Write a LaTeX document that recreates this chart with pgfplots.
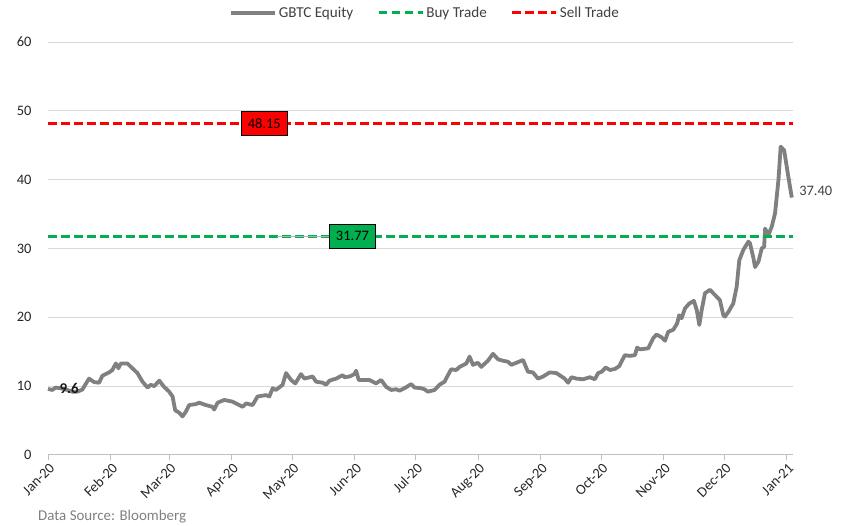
\documentclass[border=0pt]{standalone}
\usepackage{pgfplots}
\pgfplotsset{compat=1.18}
\usepackage{pgfplotstable}
\usepackage{fontspec}
\setmainfont{Carlito}
\definecolor{gbtc}{RGB}{128,128,128}
\definecolor{buyg}{RGB}{0,176,80}
\definecolor{sellr}{RGB}{255,0,0}
\definecolor{gridc}{RGB}{217,217,217}
\definecolor{axc}{RGB}{191,191,191}
\definecolor{txt}{RGB}{64,64,64}

\pgfplotstableread{
day val
0 9.6
2.1 9.45
3.8 9.8
8 9.6
12.1 9.2
14.5 9.2
17.0 9.5
20.3 11.1
22.8 10.6
25.3 10.5
26.9 11.5
30.3 12.0
31.9 12.35
33.6 13.3
34.9 12.6
36.1 13.3
39.3 13.3
41.8 12.6
44.3 11.9
46.8 10.65
49.3 9.8
50.9 10.2
52.6 10.0
55.1 10.8
57.5 9.9
60.0 9.2
61.7 8.5
63.0 6.5
65.0 6.15
66.6 5.6
68.3 6.3
69.9 7.25
73.3 7.4
74.9 7.6
78.2 7.25
81.5 7.0
82.3 6.6
84.0 7.6
87.3 8.0
91.4 7.75
96.4 7.0
98.1 7.5
101.3 7.25
103.8 8.5
108.0 8.7
109.6 8.5
111.3 9.7
112.9 9.45
116.2 10.2
117.9 11.9
120.4 10.9
122.5 10.4
125.3 11.75
127.0 11.1
131.1 11.4
132.8 10.65
136.1 10.5
137.7 10.2
139.4 10.8
142.7 11.1
146.0 11.6
146.8 11.3
149.3 11.4
151.8 11.75
152.6 12.25
153.9 10.9
159.2 10.9
162.5 10.4
165.0 10.9
167.5 9.9
170.0 9.45
172.5 9.55
174.1 9.35
176.6 9.7
179.9 10.3
181.5 9.8
184.9 9.7
186.5 9.55
188.1 9.2
191.5 9.45
193.9 10.2
196.4 10.65
198.1 11.6
199.7 12.45
202.2 12.35
203.9 12.8
207.2 13.3
208.8 14.3
210.5 13.1
212.9 13.4
214.6 12.8
217.9 13.7
220.4 14.7
222.9 13.9
225.3 13.7
227.8 13.55
229.5 13.1
232.0 13.4
235.3 13.8
237.7 12.1
240.2 12.0
242.7 11.1
245.2 11.4
248.5 12.0
251.8 11.9
255.9 11.1
257.6 10.5
259.3 11.3
261.7 11.1
265.0 11.0
268.4 11.3
270.8 11.0
272.5 11.9
274.2 12.1
276.3 12.7
278.3 12.35
280.8 12.5
282.9 12.9
285.7 14.5
288.2 14.4
290.7 14.5
291.8 15.6
293.2 15.35
297.3 15.5
299.7 16.95
301.4 17.5
303.9 17.1
305.6 16.6
307.2 17.9
309.7 18.2
311.6 19.1
312.6 20.3
313.8 19.85
315.5 21.3
317.6 22.0
319.9 22.4
321.3 21.1
322.6 18.9
323.8 21.1
325.4 23.5
327.9 24.0
329.5 23.5
332.8 22.5
334.5 20.3
335.3 20.1
337.0 20.8
339.4 22.0
341.1 24.45
342.4 28.3
344.4 29.8
346.9 31.0
347.7 30.75
349.4 28.6
350.2 27.3
351.9 28.1
353.5 30.0
354.7 30.25
355.2 32.9
356.8 31.95
358.5 33.2
360.1 35.1
361.8 40.0
362.9 44.8
364.6 44.3
366.7 40.4
368.4 37.4
}\gbtcdata

\begin{document}
\begin{tikzpicture}
\useasboundingbox (0,0) rectangle (844bp,526bp);
\begin{axis}[
  at={(48bp,71bp)}, anchor=south west,
  scale only axis, width=745bp, height=413bp,
  xmin=0, xmax=369, ymin=0, ymax=60,
  ytick={0,10,...,60},
  xtick={0,31,60,91,121,152,182,213,244,274,305,335,366},
  xticklabels={Jan-20,Feb-20,Mar-20,Apr-20,May-20,Jun-20,Jul-20,Aug-20,Sep-20,Oct-20,Nov-20,Dec-20,Jan-21},
  /pgf/number format/assume math mode=true,
  axis x line*=bottom, axis y line*=left,
  x axis line style={draw=axc, line width=1bp, -},
  y axis line style={draw=none},
  ytick style={draw=none},
  xtick style={draw=axc, line width=1bp},
  tick align=outside, major tick length=5bp,
  ymajorgrids, grid style={gridc, line width=1bp},
  tick label style={font=\fontsize{14.5}{16}\selectfont, text=black!85},
  xticklabel style={rotate=45, anchor=north east, inner sep=1bp, yshift=-1bp},
  yticklabel style={xshift=-8bp},
  clip=false,
  legend columns=3,
  legend style={at={(0.506,1)}, anchor=south, yshift=19bp, draw=none, fill=none,
    font=\fontsize{15.2}{16}\selectfont, text=txt,
    /tikz/every even column/.append style={column sep=22bp}},
  legend image code/.code={\draw[#1] (0bp,0bp) -- (44bp,0bp);},
]
\addplot[gbtc, line width=3.8bp, line join=round] table[x=day, y=val] {\gbtcdata};
\addlegendentry{GBTC Equity}
\addplot[buyg, line width=3bp, dash pattern=on 8.5bp off 4.5bp] coordinates {(0,31.77) (369,31.77)};
\addlegendentry{Buy Trade}
\addplot[sellr, line width=3bp, dash pattern=on 8.5bp off 4.5bp] coordinates {(0,48.15) (369,48.15)};
\addlegendentry{Sell Trade}
\addplot[gray!60, line width=1bp, forget plot] coordinates {(113.5,31.77) (140,31.77)};
\node[draw=black, line width=0.6bp, fill=sellr, minimum width=46bp, minimum height=24bp, inner sep=0pt,
  font=\fontsize{14.5}{16}\selectfont] at (axis cs:107.1,48.15) {48.15};
\node[draw=black, line width=0.6bp, fill=buyg, minimum width=46bp, minimum height=24bp, inner sep=0pt,
  font=\fontsize{14.5}{16}\selectfont] at (axis cs:150.8,31.77) {31.77};
\node[font=\fontsize{15}{16}\selectfont\bfseries, text=black!90] at (axis cs:10.5,9.6) {9.6};
\node[anchor=west, xshift=4bp, font=\fontsize{14.5}{16}\selectfont, text=txt] at (axis cs:368.4,38.35) {37.40};
\end{axis}
\node[anchor=west, font=\fontsize{15}{16}\selectfont, text=gbtc, inner sep=0pt] at (38bp,9bp) {Data Source: Bloomberg};
\end{tikzpicture}
\end{document}
